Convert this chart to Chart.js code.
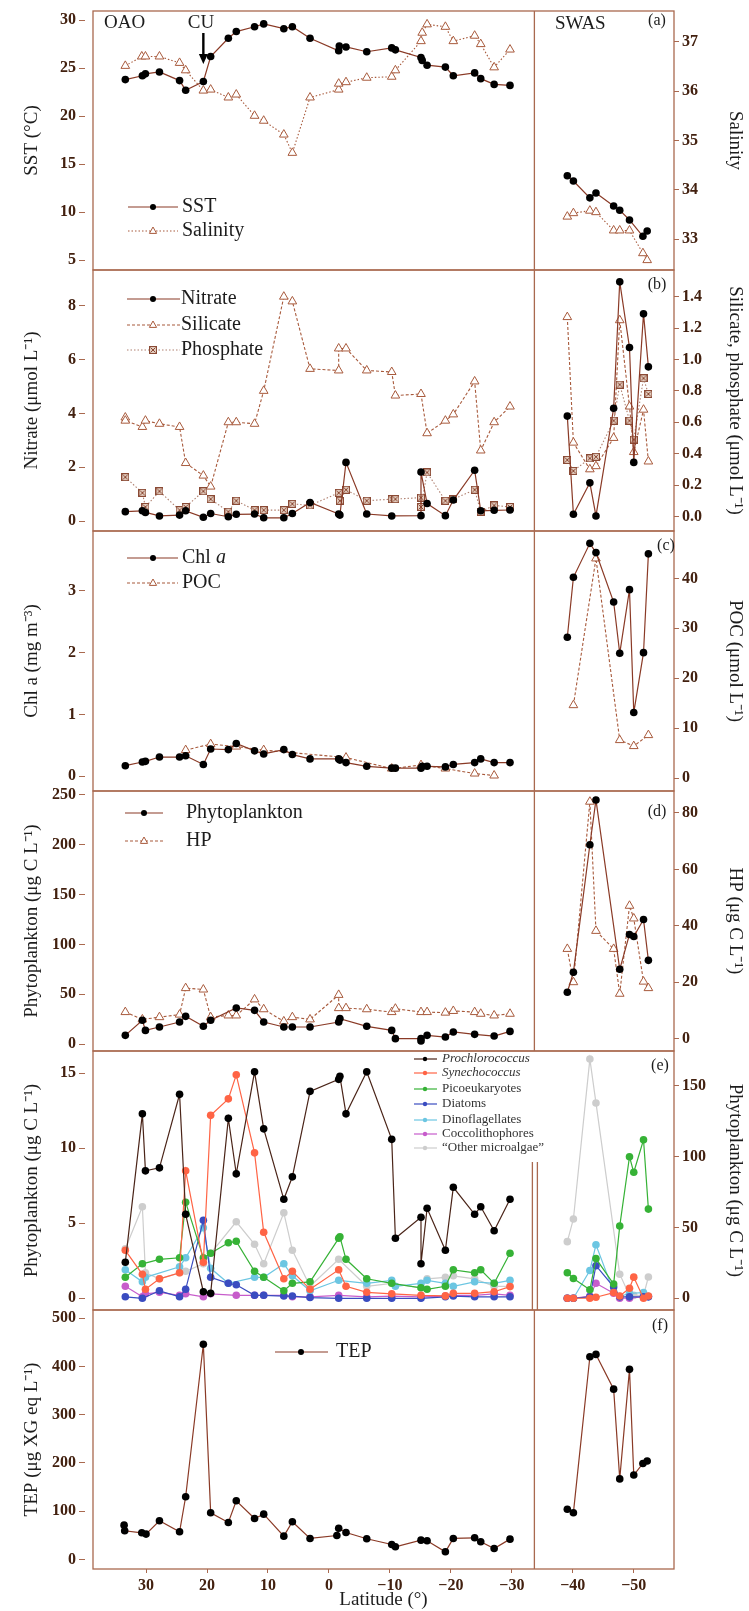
<!DOCTYPE html>
<html>
<head>
<meta charset="utf-8">
<script src="https://cdn.jsdelivr.net/npm/chart.js@4.4.0/dist/chart.umd.min.js"></script>
<style>
  html, body { margin: 0; background: #fff; }
  body { width: 749px; height: 1611px; position: relative; overflow: hidden; }
  canvas { position: absolute; left: 0; }
</style>
</head>
<body>
<canvas id="pa"></canvas>
<canvas id="pb"></canvas>
<canvas id="pc"></canvas>
<canvas id="pd"></canvas>
<canvas id="pe"></canvas>
<canvas id="pf"></canvas>
<script>
// ---- data: [latitude, value] ----
const xTicks = [30, 20, 10, 0, -10, -20, -30, -40, -50];
const breakLat = -33.7;

// (a) SST and salinity
const sstOAO = [[33.4,23.8],[30.6,24.2],[30.1,24.4],[27.8,24.6],[24.5,23.7],[23.5,22.7],[20.6,23.6],[19.4,26.2],[16.5,28.1],[15.2,28.8],[12.2,29.3],[10.7,29.6],[7.4,29.1],[6.0,29.3],[3.1,28.1],[-1.6,26.8],[-1.7,27.3],[-2.8,27.2],[-6.2,26.7],[-10.3,27.1],[-10.9,26.9],[-15.1,26.1],[-15.3,25.8],[-16.1,25.3],[-19.1,25.1],[-20.4,24.2],[-23.9,24.5],[-24.9,23.9],[-27.1,23.3],[-29.7,23.2]];
const salOAO = [[33.4,36.51],[30.7,36.70],[30.1,36.70],[27.8,36.70],[24.5,36.57],[23.5,36.42],[20.6,36.01],[19.4,36.03],[16.5,35.87],[15.2,35.93],[12.2,35.50],[10.7,35.40],[7.4,35.12],[6.0,34.75],[3.1,35.87],[-1.6,36.03],[-1.6,36.15],[-2.8,36.18],[-6.2,36.27],[-10.3,36.29],[-10.9,36.42],[-15.1,37.01],[-15.3,37.18],[-16.1,37.35],[-19.1,37.30],[-20.4,37.01],[-23.9,37.12],[-24.9,36.95],[-27.1,36.48],[-29.7,36.84]];
const sstSWAS = [[-39.1,13.8],[-40.1,13.25],[-42.8,11.5],[-43.8,12.0],[-46.7,10.65],[-47.7,10.2],[-49.3,9.2],[-51.5,7.5],[-52.2,8.05]];
const salSWAS = [[-39.1,33.46],[-40.1,33.53],[-42.8,33.58],[-43.8,33.55],[-46.7,33.18],[-47.7,33.18],[-49.3,33.18],[-51.5,32.72],[-52.2,32.58]];

// (b) nutrients
const nitOAO = [[33.4,0.35],[30.6,0.38],[30.1,0.32],[27.8,0.19],[24.5,0.22],[23.5,0.38],[20.6,0.14],[19.4,0.28],[16.5,0.16],[15.2,0.25],[12.2,0.26],[10.7,0.12],[7.4,0.12],[6.0,0.28],[3.1,0.69],[-1.6,0.26],[-1.8,0.22],[-2.8,2.18],[-6.2,0.26],[-10.3,0.19],[-15.1,0.2],[-15.1,1.82],[-16.1,0.65],[-19.1,0.2],[-20.4,0.78],[-23.9,1.89],[-24.9,0.38],[-27.1,0.4],[-29.7,0.41]];
const silOAO = [[33.4,0.63],[33.4,0.61],[30.6,0.57],[30.1,0.61],[27.8,0.59],[24.5,0.57],[23.5,0.34],[20.6,0.26],[19.4,0.19],[16.5,0.60],[15.2,0.60],[12.2,0.59],[10.7,0.80],[7.4,1.40],[6.0,1.37],[3.1,0.94],[-1.6,0.93],[-1.6,1.07],[-2.8,1.07],[-6.2,0.93],[-10.3,0.92],[-10.9,0.77],[-15.1,0.78],[-16.1,0.53],[-19.1,0.61],[-20.4,0.65],[-23.9,0.86],[-24.9,0.42],[-27.1,0.60],[-29.7,0.70]];
const phoOAO = [[33.4,0.25],[30.6,0.15],[30.1,0.06],[27.8,0.16],[24.5,0.04],[23.5,0.06],[20.6,0.16],[19.4,0.11],[16.5,0.03],[15.2,0.10],[12.2,0.04],[10.7,0.04],[7.4,0.04],[6.0,0.08],[3.1,0.07],[-1.6,0.15],[-1.8,0.10],[-2.8,0.17],[-6.2,0.10],[-10.3,0.11],[-10.9,0.11],[-15.1,0.12],[-15.1,0.06],[-16.1,0.28],[-19.1,0.10],[-20.4,0.11],[-23.9,0.17],[-24.9,0.03],[-27.1,0.07],[-29.7,0.06]];
const nitSWAS = [[-39.1,3.9],[-40.1,0.25],[-42.8,1.42],[-43.8,0.19],[-46.7,4.19],[-47.7,8.89],[-49.3,6.45],[-50.0,2.18],[-51.6,7.7],[-52.4,5.73]];
const silSWAS = [[-39.1,1.27],[-40.1,0.47],[-42.8,0.30],[-43.8,0.32],[-46.7,0.50],[-47.7,1.25],[-49.3,0.70],[-50.0,0.41],[-51.6,0.68],[-52.4,0.35]];
const phoSWAS = [[-39.1,0.36],[-40.1,0.29],[-42.8,0.37],[-43.8,0.38],[-46.7,0.61],[-47.7,0.84],[-49.3,0.61],[-50.0,0.49],[-51.6,0.88],[-52.4,0.78]];

// (c) Chl a and POC
const chlOAO = [[33.4,0.17],[30.6,0.23],[30.1,0.24],[27.8,0.31],[24.5,0.31],[23.5,0.33],[20.6,0.19],[19.4,0.44],[16.5,0.43],[15.2,0.53],[12.2,0.41],[10.7,0.36],[7.4,0.43],[6.0,0.35],[3.1,0.28],[-1.6,0.28],[-1.8,0.26],[-2.8,0.22],[-6.2,0.16],[-10.3,0.13],[-10.9,0.13],[-15.1,0.13],[-15.3,0.16],[-16.1,0.16],[-19.1,0.15],[-20.4,0.19],[-23.9,0.22],[-24.9,0.28],[-27.1,0.22],[-29.7,0.22]];
const pocOAO = [[23.5,5.6],[19.4,6.8],[15.2,6.3],[10.7,5.6],[-2.8,4.1],[-10.3,1.9],[-15.1,2.6],[-19.1,1.9],[-23.9,0.9],[-27.1,0.5]];
const chlSWAS = [[-39.1,2.25],[-40.1,3.22],[-42.8,3.77],[-43.8,3.62],[-46.7,2.82],[-47.7,1.99],[-49.3,3.02],[-50.0,1.03],[-51.6,2.0],[-52.4,3.6]];
const pocSWAS = [[-40.1,14.6],[-43.8,44],[-47.7,7.6],[-50.0,6.4],[-52.4,8.6]];

// (d) phytoplankton and heterotrophic prokaryotes
const phyOAO = [[33.4,8.7],[30.6,23.8],[30.1,13.7],[27.8,17.1],[24.5,22.1],[23.5,27.8],[20.6,17.8],[19.4,23.8],[15.2,36.2],[12.2,33.8],[10.7,22.1],[7.4,17.1],[6.0,17.1],[3.1,17.1],[-1.6,22.1],[-1.8,25.5],[-6.2,17.8],[-10.3,13.7],[-10.9,5.4],[-15.1,5.4],[-15.1,3.0],[-16.1,8.7],[-19.1,7.0],[-20.4,12.1],[-23.9,9.7],[-27.1,8.0],[-29.7,12.7]];
const hpOAO = [[33.4,9.4],[30.6,6.8],[27.8,7.6],[24.5,8.5],[23.5,17.9],[20.6,17.4],[19.4,7.6],[16.5,8.2],[15.2,8.2],[12.2,13.9],[10.7,10.4],[7.4,6.1],[6.0,7.6],[3.1,6.8],[-1.6,15.5],[-1.6,10.8],[-2.8,10.8],[-6.2,10.4],[-10.3,9.4],[-10.9,10.6],[-15.1,9.4],[-16.1,9.4],[-19.1,9.2],[-20.4,9.8],[-23.9,9.4],[-24.9,8.8],[-27.1,8.2],[-29.7,8.8]];
const phySWAS = [[-39.1,52],[-40.1,72],[-42.8,200],[-43.8,245],[-47.7,75],[-49.3,110],[-50.0,108],[-51.6,125],[-52.4,84]];
const hpSWAS = [[-39.1,31.8],[-40.1,20],[-42.8,84],[-43.8,38.2],[-46.7,31.8],[-47.7,15.9],[-49.3,47.1],[-50.0,42.6],[-51.6,20.2],[-52.4,17.9]];

// (e) phytoplankton groups
const proOAO = [[33.4,2.4],[30.6,12.3],[30.1,8.5],[27.8,8.7],[24.5,13.6],[23.5,5.6],[20.6,0.44],[19.4,0.33],[16.5,12.0],[15.2,8.3],[12.2,15.1],[10.7,11.3],[7.4,6.6],[6.0,8.1],[3.1,13.8],[-1.6,14.6],[-1.8,14.8],[-2.8,12.3],[-6.2,15.1],[-10.3,10.6],[-10.9,4.0],[-15.1,5.4],[-15.1,2.3],[-16.1,6.0],[-19.1,3.2],[-20.4,7.4],[-23.9,5.6],[-24.9,6.1],[-27.1,4.5],[-29.7,6.6]];
const synOAO = [[33.4,3.2],[30.6,1.6],[30.1,0.6],[27.8,1.3],[24.5,1.7],[23.5,8.5],[20.6,2.4],[19.4,12.2],[16.5,13.3],[15.2,14.9],[12.2,9.7],[10.7,4.4],[7.4,1.3],[6.0,1.8],[3.1,0.6],[-1.6,1.9],[-2.8,0.8],[-6.2,0.4],[-10.3,0.3],[-15.1,0.2],[-19.1,0.16],[-20.4,0.33],[-23.9,0.33],[-27.1,0.44],[-29.7,0.78]];
const picoOAO = [[33.4,1.4],[30.6,2.3],[27.8,2.6],[24.5,2.7],[23.5,6.4],[20.6,2.7],[19.4,3.0],[16.5,3.7],[15.2,3.8],[12.2,1.8],[10.7,1.4],[7.4,0.5],[6.0,1.0],[3.1,1.1],[-1.6,4.0],[-1.8,4.1],[-2.8,2.6],[-6.2,1.3],[-10.3,1.0],[-15.1,0.7],[-16.1,0.6],[-19.1,0.8],[-20.4,1.9],[-23.9,1.7],[-24.9,1.9],[-27.1,1.0],[-29.7,3.0]];
const diatOAO = [[33.4,0.1],[30.6,0.0],[27.8,0.5],[24.5,0.1],[23.5,0.6],[20.6,5.2],[19.4,1.4],[16.5,1.0],[15.2,0.9],[12.2,0.2],[10.7,0.2],[7.4,0.15],[6.0,0.15],[3.1,0.05],[-1.6,0.0],[-6.2,0.0],[-10.3,0.0],[-15.1,0.0],[-19.1,0.1],[-20.4,0.15],[-23.9,0.1],[-27.1,0.1],[-29.7,0.1]];
const dinoOAO = [[33.4,1.9],[30.6,1.1],[30.1,1.4],[24.5,2.1],[23.5,2.7],[20.6,4.7],[19.4,2.0],[16.5,1.0],[12.2,1.4],[10.7,1.4],[7.4,2.3],[6.0,1.5],[3.1,0.5],[-1.6,1.2],[-6.2,1.0],[-10.3,1.2],[-10.9,0.8],[-15.1,1.0],[-16.1,1.2],[-19.1,1.0],[-20.4,0.8],[-23.9,1.1],[-27.1,1.0],[-29.7,1.2]];
const coccOAO = [[33.4,0.8],[30.6,0.1],[30.1,0.3],[27.8,0.4],[24.5,0.2],[23.5,0.3],[20.6,0.1],[19.4,0.3],[15.2,0.2],[12.2,0.2],[10.7,0.2],[7.4,0.2],[6.0,0.1],[3.1,0.1],[-1.6,0.2],[-6.2,0.1],[-10.3,0.15],[-15.1,0.1],[-19.1,0.15],[-20.4,0.2],[-23.9,0.2],[-27.1,0.3],[-29.7,0.2]];
const othOAO = [[33.4,3.3],[30.6,6.1],[30.1,1.7],[27.8,1.3],[24.5,1.7],[23.5,1.8],[20.6,2.3],[19.4,3.0],[15.2,5.1],[12.2,3.6],[10.7,2.3],[7.4,5.7],[6.0,3.2],[3.1,0.8],[-1.6,2.6],[-6.2,0.8],[-10.3,1.0],[-15.1,0.7],[-16.1,1.3],[-19.1,1.4],[-20.4,1.5],[-23.9,1.3],[-27.1,0.8],[-29.7,0.8]];
const synSWAS = [[-39.1,0],[-40.1,0],[-42.8,0],[-43.8,0.7],[-46.7,4],[-47.7,1.6],[-49.3,7.1],[-50.0,14.9],[-51.6,0],[-52.4,1.6]];
const picoSWAS = [[-39.1,18],[-40.1,14],[-42.8,6],[-43.8,28],[-46.7,10],[-47.7,51],[-49.3,100],[-50.0,89],[-51.6,112],[-52.4,63]];
const diatSWAS = [[-39.1,0],[-40.1,0],[-42.8,1],[-43.8,23],[-46.7,8],[-47.7,1],[-49.3,1],[-51.6,1],[-52.4,1]];
const dinoSWAS = [[-39.1,0],[-40.1,0],[-42.8,19.6],[-43.8,37.8],[-46.7,4.7],[-47.7,1.2],[-49.3,3.5],[-51.6,4],[-52.4,1.2]];
const coccSWAS = [[-39.1,0],[-40.1,0],[-42.8,1.6],[-43.8,10.6],[-46.7,3.5],[-47.7,0],[-49.3,0],[-51.6,1.2],[-52.4,1.2]];
const othSWAS = [[-39.1,40],[-40.1,56],[-42.8,169],[-43.8,138],[-47.7,17],[-49.3,2],[-50.0,2],[-51.6,2],[-52.4,15]];

// (f) TEP
const tepOAO = [[33.6,71.2],[33.5,59.5],[30.7,55.3],[30.0,52.6],[27.8,80.2],[24.5,57.4],[23.5,130],[20.6,446],[19.4,96.8],[16.5,76.8],[15.2,121.7],[12.2,85.1],[10.7,94],[7.4,48.4],[6.0,78.1],[3.1,43.6],[-1.3,49.7],[-1.6,64.8],[-2.8,55.9],[-6.2,42.9],[-10.3,31.1],[-10.9,26.3],[-15.1,40.1],[-16.1,38.7],[-19.1,15.9],[-20.4,43.6],[-23.9,45],[-24.9,36.7],[-27.1,22.8],[-29.7,42.2]];
const tepSWAS = [[-39.1,104],[-40.1,97],[-42.8,420],[-43.8,425],[-46.7,353],[-47.7,167],[-49.3,394],[-50.0,175],[-51.5,199],[-52.2,204]];

// ---- styling ----
const SERIF = '"Liberation Serif", "Times New Roman", serif';
const FRAME = '#a9694f', LINE = '#8a3a26', TRI = '#a85a3c', TICK = '#42200f', INK = '#1c1c1c';
const PHO = '#b08070';
const C_SYN = '#ff6445', C_PICO = '#36b236', C_DIAT = '#3a4cc0', C_DINO = '#6cc6e2', C_COCC = '#c75ccb', C_OTH = '#cdcdcd', C_PRO = '#4a2418';
const X_MIN = -56.6, X_MAX = 38.7;

function crossSquare() {
  const c = document.createElement('canvas');
  c.width = 8; c.height = 8;
  const g = c.getContext('2d');
  g.fillStyle = '#e2cbbd'; g.fillRect(0.5, 0.5, 7, 7);
  g.strokeStyle = '#8a4a35'; g.lineWidth = 1; g.strokeRect(0.5, 0.5, 7, 7);
  g.beginPath(); g.moveTo(1.5, 1.5); g.lineTo(6.5, 6.5); g.moveTo(6.5, 1.5); g.lineTo(1.5, 6.5); g.stroke();
  return c;
}
const SQ = crossSquare();

function pts(arr) { return arr.map(p => ({x: p[0], y: p[1]})); }

function dots(data, axis, line, dash) {
  return {data: pts(data), yAxisID: axis, showLine: true, clip: false, borderColor: line || LINE, borderWidth: 1.2,
    borderDash: dash || [], pointStyle: 'circle', pointRadius: 3.8, pointBackgroundColor: '#000', pointBorderColor: '#000', pointBorderWidth: 0};
}
function tris(data, axis, dash) {
  return {data: pts(data), yAxisID: axis, showLine: true, clip: false, borderColor: TRI, borderWidth: 1.1,
    borderDash: dash, pointStyle: 'triangle', pointRadius: 5, pointBackgroundColor: '#fff', pointBorderColor: TRI, pointBorderWidth: 1};
}
function squares(data, axis) {
  return {data: pts(data), yAxisID: axis, showLine: true, clip: false, borderColor: PHO, borderWidth: 1.1,
    borderDash: [1.5, 2], pointStyle: SQ};
}
function colored(data, axis, color) {
  return {data: pts(data), yAxisID: axis, showLine: true, clip: false, borderColor: color, borderWidth: 1.2,
    pointStyle: 'circle', pointRadius: 3.8, pointBackgroundColor: color, pointBorderColor: color, pointBorderWidth: 0};
}

function xScale(show) {
  return {
    type: 'linear', reverse: true, min: X_MIN, max: X_MAX, display: show,
    afterBuildTicks: s => { s.ticks = xTicks.map(v => ({value: v})); },
    afterFit: s => { if (show) s.height = 42; },
    grid: {drawOnChartArea: false, tickLength: 4, tickColor: FRAME},
    border: {display: false},
    ticks: {color: TICK, padding: 3, maxRotation: 0, autoSkip: false,
      font: {family: SERIF, size: 16, weight: 'bold'},
      callback: v => v < 0 ? '\u2212' + (-v) : String(v)},
    title: {display: show, text: 'Latitude (°)', color: INK, font: {family: SERIF, size: 19}, padding: 0}
  };
}

function yScale(pos, min, max, ticks, title, dec) {
  const left = pos === 'left';
  return {
    type: 'linear', position: pos, min: min, max: max,
    afterBuildTicks: s => { s.ticks = ticks.map(v => ({value: v})); },
    afterFit: s => { s.width = left ? 93 : 75; },
    grid: {drawOnChartArea: false, tickLength: left ? 14 : 5, tickColor: FRAME, tickBorderDash: left ? [6, 30] : []},
    border: {display: false},
    ticks: {color: TICK, padding: 3, autoSkip: false, font: {family: SERIF, size: 16, weight: 'bold'},
      callback: v => dec ? v.toFixed(dec) : String(v)},
    title: {display: true, text: title, color: INK, font: {family: SERIF, size: 19},
      padding: {top: left ? 21 : 3, bottom: 0}}
  };
}

// ---- decorations (frame, labels, legends) ----
const DECO = {
  pa: {top: -9, texts: [{t: 'OAO', x: 104, y: 23, s: 19, a: 'left'}, {t: 'CU', x: 201, y: 23, s: 19, a: 'center'},
      {t: 'SWAS', x: 555, y: 24, s: 19, a: 'left'}, {t: '(a)', x: 657, y: 21, s: 16, a: 'center'}],
    arrow: {lat: 20.6, y1: 33, y2: 64},
    legend: [{y: 207, x1: 128, x2: 178, mx: 153, tx: 182, text: [['SST']], color: LINE, dash: [], m: 'dot'},
      {y: 231, x1: 128, x2: 178, mx: 153, tx: 182, text: [['Salinity']], color: TRI, dash: [1.5, 2], m: 'tri'}]},
  pb: {top: 250, texts: [{t: '(b)', x: 657, y: 285, s: 16, a: 'center'}],
    legend: [{y: 299, x1: 127, x2: 180, mx: 153, tx: 181, text: [['Nitrate']], color: LINE, dash: [], m: 'dot'},
      {y: 325, x1: 127, x2: 180, mx: 153, tx: 181, text: [['Silicate']], color: TRI, dash: [3, 2], m: 'tri'},
      {y: 350, x1: 127, x2: 180, mx: 153, tx: 181, text: [['Phosphate']], color: PHO, dash: [1.5, 2], m: 'sq'}]},
  pc: {top: 511, texts: [{t: '(c)', x: 666, y: 546, s: 16, a: 'center'}],
    legend: [{y: 558, x1: 127, x2: 178, mx: 153, tx: 182, text: [['Chl '], ['a', 1]], color: LINE, dash: [], m: 'dot'},
      {y: 583, x1: 127, x2: 178, mx: 153, tx: 182, text: [['POC']], color: TRI, dash: [3, 2], m: 'tri'}]},
  pd: {top: 771, texts: [{t: '(d)', x: 657, y: 812, s: 16, a: 'center'}],
    legend: [{y: 813, x1: 125, x2: 163, mx: 144, tx: 186, text: [['Phytoplankton']], color: LINE, dash: [], m: 'dot'},
      {y: 841, x1: 125, x2: 163, mx: 144, tx: 186, text: [['HP']], color: TRI, dash: [3, 2], m: 'tri'}]},
  pe: {top: 1031, split: 1162, texts: [{t: '(e)', x: 660, y: 1066, s: 16, a: 'center'}],
    legend: [
      {y: 1059, x1: 414, x2: 437, mx: 425, tx: 442, fs: 13, text: [['Prochlorococcus', 1]], color: C_PRO, dash: [], m: 'sdot', mc: '#000'},
      {y: 1073, x1: 414, x2: 437, mx: 425, tx: 442, fs: 13, text: [['Synechococcus', 1]], color: C_SYN, dash: [], m: 'sdot', mc: C_SYN},
      {y: 1089, x1: 414, x2: 437, mx: 425, tx: 442, fs: 13, text: [['Picoeukaryotes']], color: C_PICO, dash: [], m: 'sdot', mc: C_PICO},
      {y: 1104, x1: 414, x2: 437, mx: 425, tx: 442, fs: 13, text: [['Diatoms']], color: C_DIAT, dash: [], m: 'sdot', mc: C_DIAT},
      {y: 1120, x1: 414, x2: 437, mx: 425, tx: 442, fs: 13, text: [['Dinoflagellates']], color: C_DINO, dash: [], m: 'sdot', mc: C_DINO},
      {y: 1134, x1: 414, x2: 437, mx: 425, tx: 442, fs: 13, text: [['Coccolithophores']], color: C_COCC, dash: [], m: 'sdot', mc: C_COCC},
      {y: 1148, x1: 414, x2: 437, mx: 425, tx: 442, fs: 13, text: [['\u201COther microalgae\u201D']], color: C_OTH, dash: [], m: 'sdot', mc: C_OTH}]},
  pf: {top: 1290, texts: [{t: '(f)', x: 660, y: 1326, s: 16, a: 'center'}],
    legend: [{y: 1352, x1: 275, x2: 328, mx: 301, tx: 336, text: [['TEP']], color: LINE, dash: [], m: 'dot'}]}
};

function drawMarker(ctx, m, x, y, c) {
  ctx.setLineDash([]);
  if (m === 'dot' || m === 'sdot') {
    ctx.fillStyle = c || '#000';
    ctx.beginPath(); ctx.arc(x, y, m === 'dot' ? 3 : 2.2, 0, Math.PI * 2); ctx.fill();
  } else if (m === 'tri') {
    ctx.fillStyle = '#fff'; ctx.strokeStyle = TRI; ctx.lineWidth = 1;
    ctx.beginPath(); ctx.moveTo(x, y - 4); ctx.lineTo(x + 3.6, y + 2.4); ctx.lineTo(x - 3.6, y + 2.4); ctx.closePath();
    ctx.fill(); ctx.stroke();
  } else if (m === 'sq') {
    ctx.drawImage(SQ, x - 4, y - 4);
  }
}

const deco = {
  id: 'deco',
  afterDatasetsDraw(chart) {
    const d = DECO[chart.canvas.id];
    const ctx = chart.ctx, a = chart.chartArea, xs = chart.scales.x, oy = d.top;
    ctx.save();
    ctx.strokeStyle = FRAME; ctx.lineWidth = 1.3; ctx.setLineDash([]);
    ctx.strokeRect(a.left, a.top, a.right - a.left, a.bottom - a.top);
    const xb = xs.getPixelForValue(breakLat);
    ctx.beginPath();
    if (d.split) {
      const y0 = d.split - oy;
      ctx.moveTo(xb - 2, y0); ctx.lineTo(xb - 2, a.bottom);
      ctx.moveTo(xb + 3, y0); ctx.lineTo(xb + 3, a.bottom);
    } else {
      ctx.moveTo(xb, a.top); ctx.lineTo(xb, a.bottom);
    }
    ctx.stroke();

    ctx.fillStyle = INK; ctx.textBaseline = 'middle';
    (d.texts || []).forEach(t => {
      ctx.font = t.s + 'px ' + SERIF;
      ctx.textAlign = t.a;
      ctx.fillText(t.t, t.x, t.y - oy);
    });

    if (d.arrow) {
      const ax = xs.getPixelForValue(d.arrow.lat);
      ctx.strokeStyle = '#000'; ctx.fillStyle = '#000'; ctx.lineWidth = 2.4;
      ctx.beginPath(); ctx.moveTo(ax, d.arrow.y1 - oy); ctx.lineTo(ax, d.arrow.y2 - oy - 8); ctx.stroke();
      ctx.beginPath(); ctx.moveTo(ax - 4.5, d.arrow.y2 - oy - 10); ctx.lineTo(ax + 4.5, d.arrow.y2 - oy - 10);
      ctx.lineTo(ax, d.arrow.y2 - oy); ctx.closePath(); ctx.fill();
    }

    (d.legend || []).forEach(it => {
      const y = it.y - oy;
      ctx.strokeStyle = it.color; ctx.lineWidth = 1.2; ctx.setLineDash(it.dash);
      ctx.beginPath(); ctx.moveTo(it.x1, y); ctx.lineTo(it.x2, y); ctx.stroke();
      drawMarker(ctx, it.m, it.mx, y, it.mc);
      let x = it.tx;
      const fs = it.fs || 20;
      ctx.textAlign = 'left'; ctx.fillStyle = it.fs ? '#333' : INK;
      it.text.forEach(seg => {
        ctx.font = (seg[1] ? 'italic ' : '') + fs + 'px ' + SERIF;
        ctx.fillText(seg[0], x, y);
        x += ctx.measureText(seg[0]).width;
      });
    });
    ctx.restore();
  }
};

function makeChart(id, top, height, pad, datasets, scales) {
  const cv = document.getElementById(id);
  cv.width = 749; cv.height = height; cv.style.top = top + 'px';
  return new Chart(cv, {
    type: 'scatter',
    data: {datasets: datasets},
    options: {
      responsive: false, animation: false, events: [],
      layout: {padding: pad},
      plugins: {legend: {display: false}, tooltip: {enabled: false}},
      scales: scales
    },
    plugins: [deco]
  });
}

const PADV = {top: 20, bottom: 20, left: 0, right: 0};

// (a) panel 11 -> 270
makeChart('pa', -9, 299, PADV, [
  dots(sstOAO, 'yL'), dots(sstSWAS, 'yL'),
  tris(salOAO, 'yR', [1.5, 2]), tris(salSWAS, 'yR', [1.5, 2])
], {
  x: xScale(false),
  yL: yScale('left', 3.99, 30.94, [5, 10, 15, 20, 25, 30], 'SST (°C)'),
  yR: yScale('right', 32.38, 37.62, [33, 34, 35, 36, 37], 'Salinity')
});

// (b) panel 270 -> 531
makeChart('pb', 250, 301, PADV, [
  dots(nitOAO, 'yL'), dots(nitSWAS, 'yL'),
  squares(phoOAO, 'yR'), squares(phoSWAS, 'yR'),
  tris(silOAO, 'yR', [3, 2]), tris(silSWAS, 'yR', [3, 2])
], {
  x: xScale(false),
  yL: yScale('left', -0.37, 9.33, [0, 2, 4, 6, 8], 'Nitrate (\u03BCmol L\u207B\u00B9)'),
  yR: yScale('right', -0.093, 1.57, [0, 0.2, 0.4, 0.6, 0.8, 1.0, 1.2, 1.4], 'Silicate, phosphate (\u03BCmol L\u207B\u00B9)', 1)
});

// (c) panel 531 -> 791
makeChart('pc', 511, 300, PADV, [
  dots(chlOAO, 'yL'), dots(chlSWAS, 'yL'),
  tris(pocOAO, 'yR', [3, 2]), tris(pocSWAS, 'yR', [3, 2])
], {
  x: xScale(false),
  yL: yScale('left', -0.24, 3.97, [0, 1, 2, 3], 'Chl a (mg m\u207B\u00B3)'),
  yR: yScale('right', -2.6, 49.5, [0, 10, 20, 30, 40], 'POC (\u03BCmol L\u207B\u00B9)')
});

// (d) panel 791 -> 1051
makeChart('pd', 771, 300, PADV, [
  dots(phyOAO, 'yL'), dots(phySWAS, 'yL'),
  tris(hpOAO, 'yR', [3, 2]), tris(hpSWAS, 'yR', [3, 2])
], {
  x: xScale(false),
  yL: yScale('left', -7, 254, [0, 50, 100, 150, 200, 250], 'Phytoplankton (\u03BCg C L\u207B\u00B9)'),
  yR: yScale('right', -4.4, 87.8, [0, 20, 40, 60, 80], 'HP (\u03BCg C L\u207B\u00B9)')
});

// (e) panel 1051 -> 1310
makeChart('pe', 1031, 299, PADV, [
  colored(proOAO, 'yL', C_PRO),
  colored(synOAO, 'yL', C_SYN), colored(picoOAO, 'yL', C_PICO), colored(diatOAO, 'yL', C_DIAT),
  colored(dinoOAO, 'yL', C_DINO), colored(coccOAO, 'yL', C_COCC), colored(othOAO, 'yL', C_OTH),
  colored(synSWAS, 'yR', C_SYN), colored(picoSWAS, 'yR', C_PICO), colored(diatSWAS, 'yR', C_DIAT),
  colored(dinoSWAS, 'yR', C_DINO), colored(coccSWAS, 'yR', C_COCC), colored(othSWAS, 'yR', C_OTH)
].map((ds, i) => { if (i === 0) { ds.pointBackgroundColor = '#000'; ds.pointBorderColor = '#000'; } return ds; }), {
  x: xScale(false),
  yL: yScale('left', -0.78, 16.49, [0, 5, 10, 15], 'Phytoplankton (\u03BCg C L\u207B\u00B9)'),
  yR: yScale('right', -8.3, 174.7, [0, 50, 100, 150], 'Phytoplankton (\u03BCg C L\u207B\u00B9)')
});

// (f) panel 1310 -> 1569
makeChart('pf', 1290, 321, {top: 20, bottom: 0, left: 0, right: 75}, [
  dots(tepOAO, 'yL'), dots(tepSWAS, 'yL')
], {
  x: xScale(true),
  yL: yScale('left', -19.7, 517, [0, 100, 200, 300, 400, 500], 'TEP (\u03BCg XG eq L\u207B\u00B9)')
});
</script>
</body>
</html>
